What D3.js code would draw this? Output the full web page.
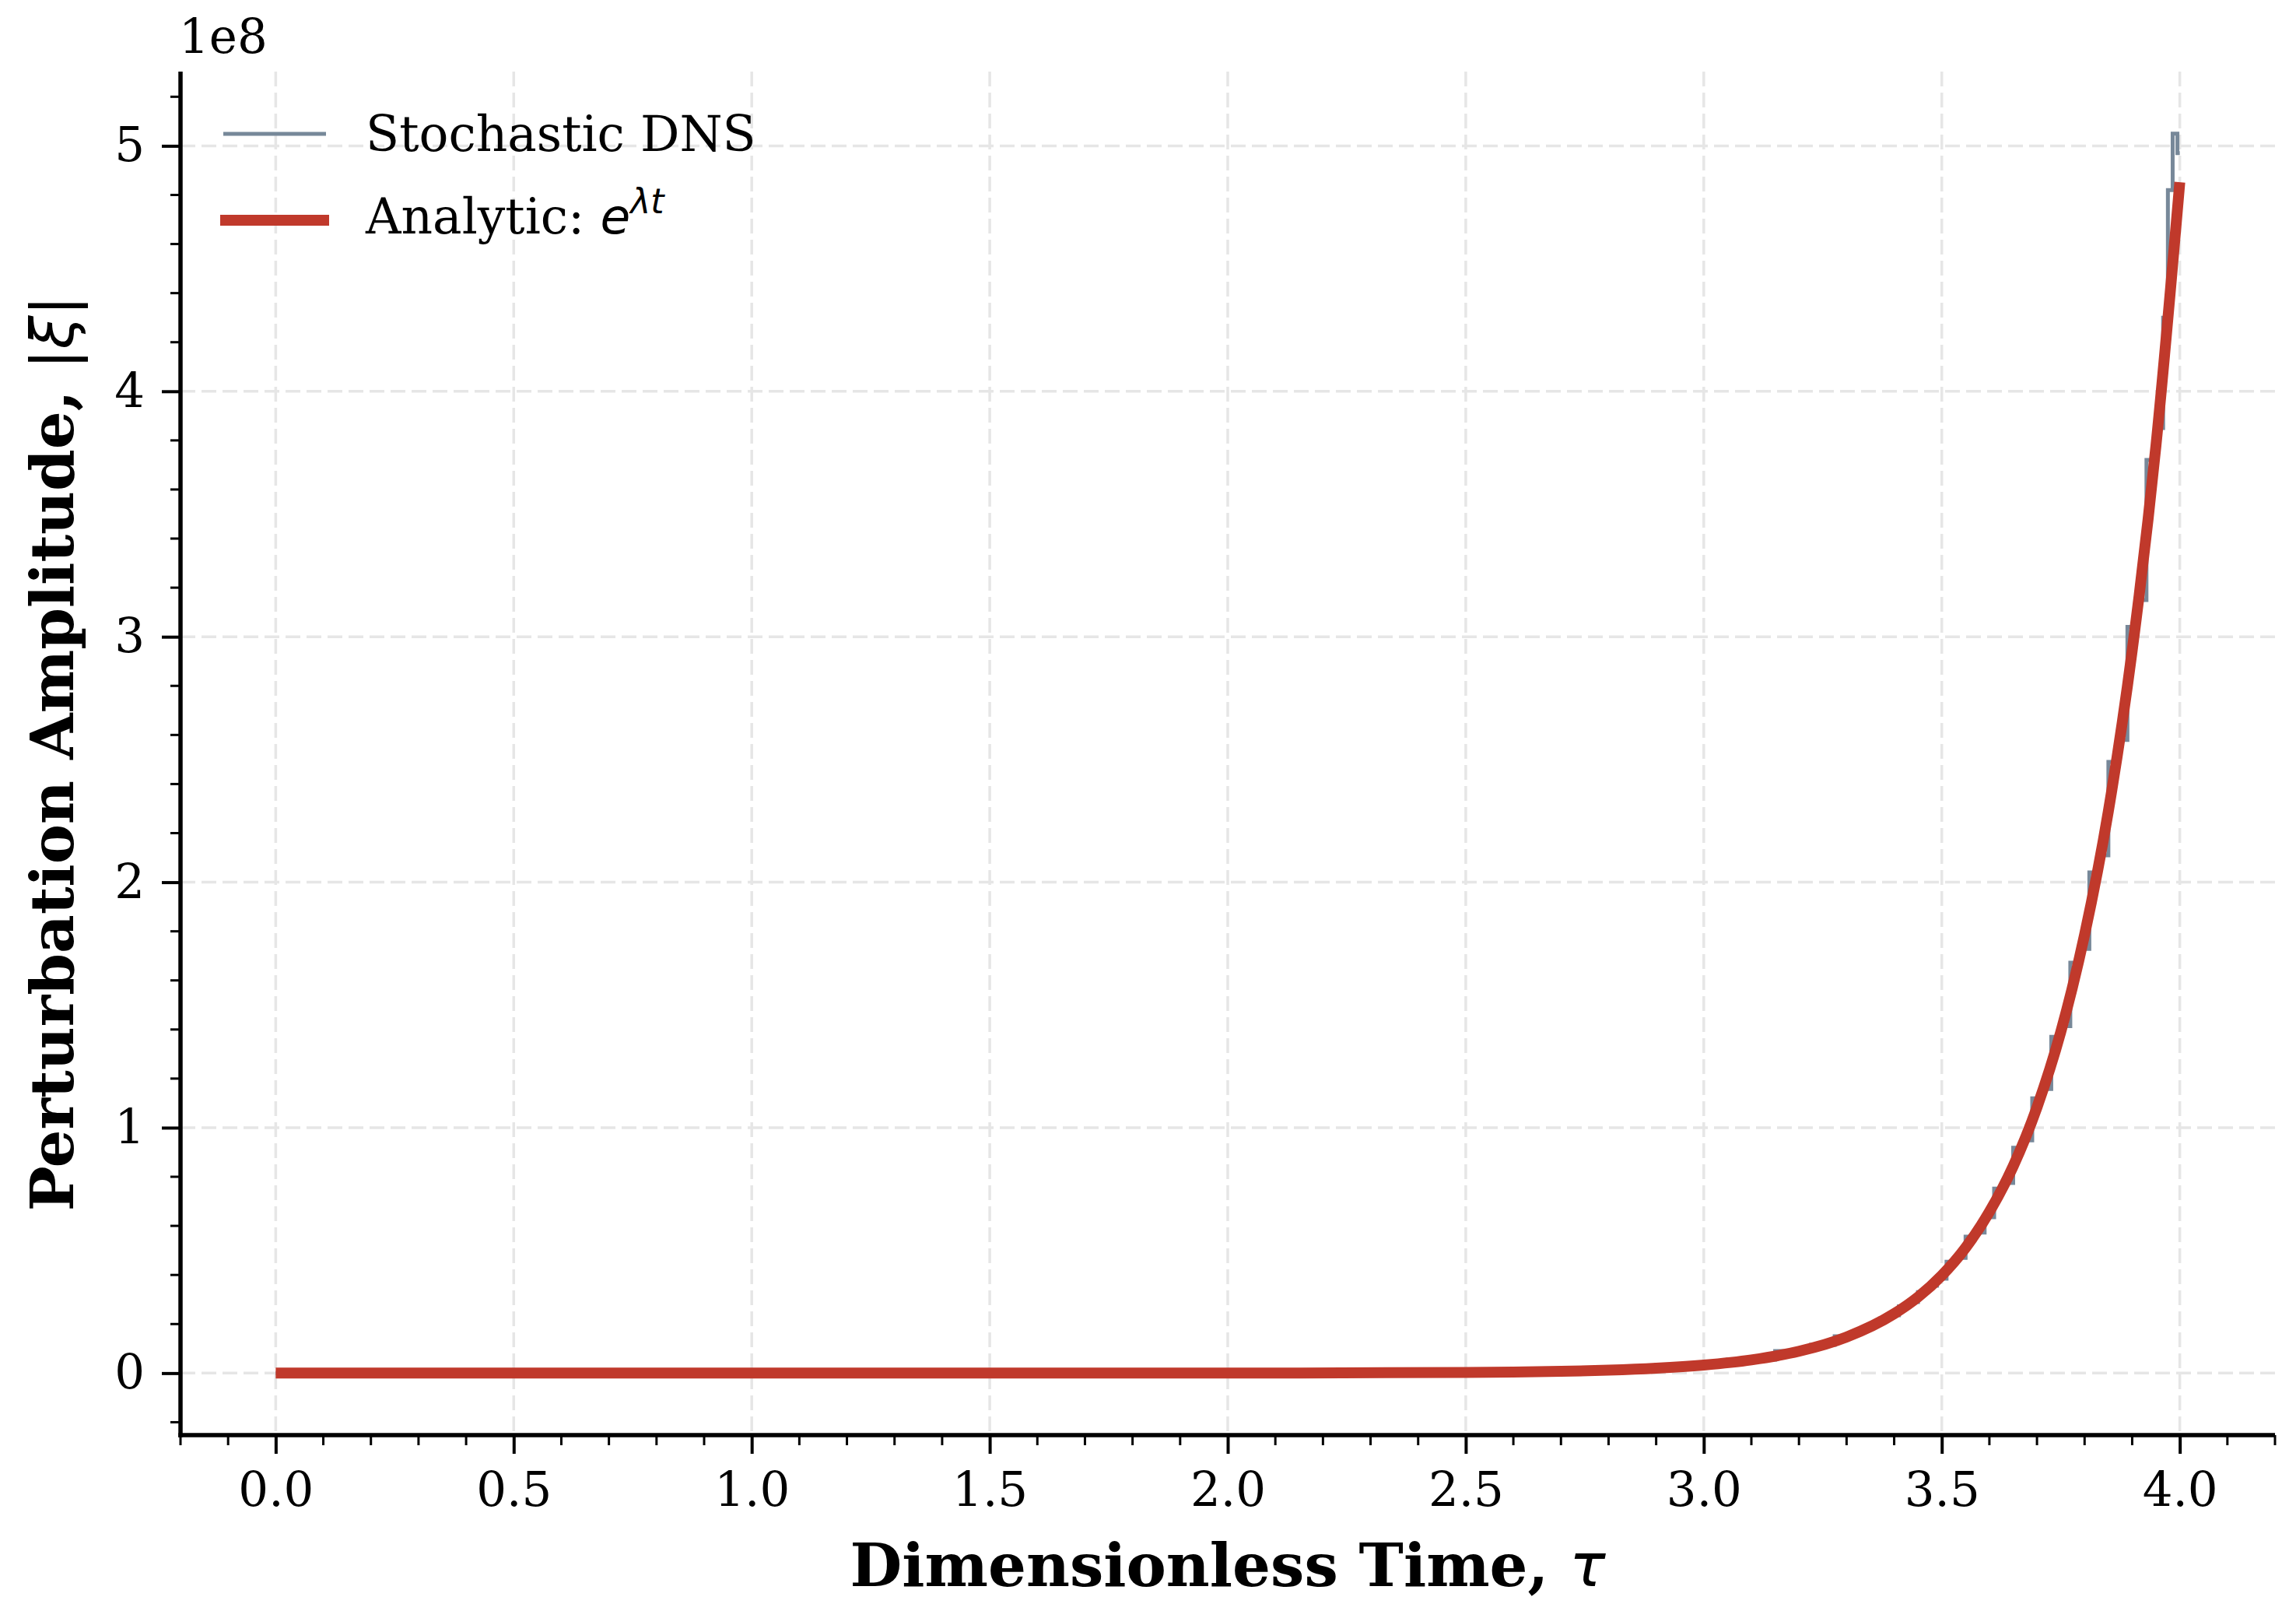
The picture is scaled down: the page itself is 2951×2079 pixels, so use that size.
<!DOCTYPE html>
<html>
<head>
<meta charset="utf-8">
<script src="https://cdn.jsdelivr.net/npm/d3@7"></script>
<style>
  body { margin: 0; background: #fff; }
  text { font-family: "DejaVu Serif", serif; fill: #000; }
</style>
</head>
<body>
<svg id="chart" width="2951" height="2079"></svg>
<script>
/************** Data (amplitudes in units of 1e8) **************/
// analytic curve e^{lambda t}
const tAnalytic = [0.0, 0.5, 1.0, 1.5, 2.0, 2.5, 2.6, 2.7, 2.8, 2.9, 3.0, 3.1, 3.2, 3.3, 3.4,
  3.45, 3.5, 3.55, 3.6, 3.65, 3.7, 3.75, 3.8, 3.85, 3.9, 3.95, 4.0];
const ampAnalytic = [0.0, 0.0, 0.0, 0.00002, 0.0002, 0.0027, 0.0044, 0.0073, 0.012, 0.020, 0.033,
  0.054, 0.089, 0.147, 0.242, 0.310, 0.398, 0.511, 0.657, 0.843, 1.083, 1.39, 1.786, 2.29,
  2.944, 3.78, 4.852];

// stochastic DNS run (small jagged steps around the analytic curve)
const tStoch = [0.0, 0.5, 1.0, 1.5, 2.0, 2.5, 2.8, 3.0, 3.1, 3.2, 3.25, 3.3, 3.32, 3.34, 3.36, 3.38,
  3.40, 3.42, 3.44, 3.46, 3.48, 3.50, 3.52, 3.54, 3.56, 3.58, 3.60, 3.62, 3.64, 3.66, 3.68,
  3.70, 3.72, 3.74, 3.76, 3.78, 3.80, 3.82, 3.84, 3.86, 3.88, 3.90, 3.92, 3.94, 3.96, 3.97,
  3.98, 3.99, 4.00];
const ampStoch = [0.0, 0.0, 0.0, 0.00002, 0.0002, 0.0027, 0.012, 0.033, 0.055, 0.090, 0.115, 0.150,
  0.165, 0.181, 0.196, 0.222, 0.236, 0.272, 0.290, 0.330, 0.356, 0.385, 0.454, 0.470, 0.556,
  0.573, 0.635, 0.752, 0.775, 0.918, 0.948, 1.120, 1.158, 1.370, 1.414, 1.672, 1.728, 2.040,
  2.110, 2.490, 2.580, 3.040, 3.150, 3.720, 3.850, 4.300, 4.820, 5.050, 4.970];

const xTicks = [0.0, 0.5, 1.0, 1.5, 2.0, 2.5, 3.0, 3.5, 4.0];
const yTicks = [0, 1, 2, 3, 4, 5];

const analytic = tAnalytic.map((t, i) => ({ t, v: ampAnalytic[i] }));
const stoch = tStoch.map((t, i) => ({ t, v: ampStoch[i] }));

/************** Layout **************/
const svg = d3.select("#chart");
const pLeft = 232, pRight = 2924, pTop = 92, pBottom = 1844;
const colStoch = "#778899", colAnalytic = "#c0392b";

// matplotlib-style 5% margins
const xExt = d3.extent(tStoch), yExt = d3.extent(ampStoch);
const xPad = 0.05 * (xExt[1] - xExt[0]), yPad = 0.05 * (yExt[1] - yExt[0]);
const x = d3.scaleLinear().domain([xExt[0] - xPad, xExt[1] + xPad]).range([pLeft, pRight]);
const y = d3.scaleLinear().domain([yExt[0] - yPad, yExt[1] + yPad]).range([pBottom, pTop]);

/************** Grid **************/
const grid = svg.append("g").attr("class", "grid")
  .attr("stroke", "#e6e6e6").attr("stroke-width", 3.5).attr("stroke-dasharray", "19 8");
grid.selectAll("line.gx").data(xTicks).join("line").attr("class", "gx")
  .attr("x1", d => x(d)).attr("x2", d => x(d)).attr("y1", pTop).attr("y2", pBottom);
grid.selectAll("line.gy").data(yTicks).join("line").attr("class", "gy")
  .attr("y1", d => y(d)).attr("y2", d => y(d)).attr("x1", pLeft).attr("x2", pRight);

/************** Lines **************/
svg.append("path").datum(stoch)
  .attr("fill", "none").attr("stroke", colStoch).attr("stroke-width", 5)
  .attr("d", d3.line().x(d => x(d.t)).y(d => y(d.v)).curve(d3.curveStep));
svg.append("path").datum(analytic)
  .attr("fill", "none").attr("stroke", colAnalytic).attr("stroke-width", 14)
  .attr("d", d3.line().x(d => x(d.t)).y(d => y(d.v)).curve(d3.curveMonotoneX));

/************** Axes **************/
const xMinor = d3.range(-2, 43).map(i => i / 10).filter(v => !xTicks.some(t => Math.abs(t - v) < 1e-9));
const yMinor = d3.range(-1, 27).map(i => i / 5).filter(v => !yTicks.some(t => Math.abs(t - v) < 1e-9));

const xAxis = svg.append("g").attr("transform", `translate(0,${pBottom})`)
  .call(d3.axisBottom(x).tickValues(xTicks).tickFormat(d3.format(".1f")).tickSize(24).tickSizeOuter(0).tickPadding(24));
const yAxis = svg.append("g").attr("transform", `translate(${pLeft},0)`)
  .call(d3.axisLeft(y).tickValues(yTicks).tickFormat(d3.format("d")).tickSize(24).tickSizeOuter(0).tickPadding(22));

[xAxis, yAxis].forEach(a => {
  a.select(".domain").remove();
  a.selectAll(".tick line").attr("stroke", "#000").attr("stroke-width", 4);
  a.selectAll(".tick text").style("font-family", "DejaVu Serif").style("font-size", "61px").attr("fill", "#000");
});

svg.append("g").selectAll("line").data(xMinor).join("line")
  .attr("x1", d => x(d)).attr("x2", d => x(d)).attr("y1", pBottom).attr("y2", pBottom + 13)
  .attr("stroke", "#000").attr("stroke-width", 3);
svg.append("g").selectAll("line").data(yMinor).join("line")
  .attr("y1", d => y(d)).attr("y2", d => y(d)).attr("x1", pLeft).attr("x2", pLeft - 13)
  .attr("stroke", "#000").attr("stroke-width", 3);

// spines (left + bottom only)
svg.append("line").attr("x1", pLeft).attr("x2", pLeft).attr("y1", pTop).attr("y2", pBottom + 2.75)
  .attr("stroke", "#000").attr("stroke-width", 5.5);
svg.append("line").attr("x1", pLeft - 2.75).attr("x2", pRight).attr("y1", pBottom).attr("y2", pBottom)
  .attr("stroke", "#000").attr("stroke-width", 5.5);

// offset text
svg.append("text").attr("x", pLeft - 2).attr("y", 68).style("font-size", "61px").text("1e8");

/************** Axis labels **************/
const xl = svg.append("text").attr("x", (pLeft + pRight) / 2).attr("y", 2038)
  .attr("text-anchor", "middle").style("font-size", "77px").style("font-weight", "bold");
xl.append("tspan").text("Dimensionless Time, ");
xl.append("tspan").style("font-family", "DejaVu Sans").style("font-style", "italic")
  .style("font-weight", "normal").text("τ");

const yl = svg.append("text")
  .attr("transform", `translate(94,${(pTop + pBottom) / 2}) rotate(-90)`)
  .attr("text-anchor", "middle").style("font-size", "77px").style("font-weight", "bold");
yl.append("tspan").text("Perturbation Amplitude, ");
yl.append("tspan").style("font-family", "DejaVu Sans").style("font-weight", "normal").text("|");
yl.append("tspan").style("font-family", "DejaVu Sans").style("font-style", "italic")
  .style("font-weight", "normal").text("ξ");
yl.append("tspan").style("font-family", "DejaVu Sans").style("font-weight", "normal").text("|");

/************** Legend **************/
const legend = svg.append("g");
legend.append("line").attr("x1", 287).attr("x2", 419).attr("y1", 172).attr("y2", 172)
  .attr("stroke", colStoch).attr("stroke-width", 5);
legend.append("text").attr("x", 470).attr("y", 194).style("font-size", "63px").text("Stochastic DNS");
legend.append("line").attr("x1", 283).attr("x2", 423).attr("y1", 283).attr("y2", 283)
  .attr("stroke", colAnalytic).attr("stroke-width", 14);
const lt = legend.append("text").attr("x", 470).attr("y", 300).style("font-size", "63px");
lt.append("tspan").text("Analytic: ");
lt.append("tspan").style("font-family", "DejaVu Sans").style("font-style", "italic").text("e");
lt.append("tspan").attr("dy", -26).style("font-family", "DejaVu Sans").style("font-style", "italic")
  .style("font-size", "44px").text("λt");
</script>
</body>
</html>
